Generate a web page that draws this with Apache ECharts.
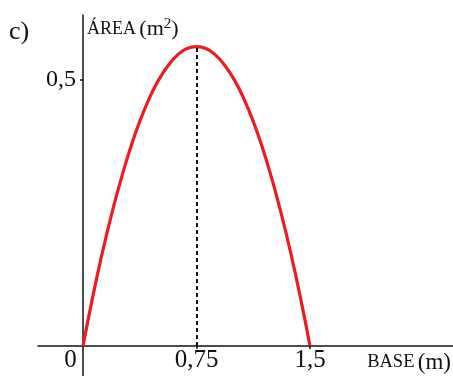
<!DOCTYPE html>
<html>
<head>
<meta charset="utf-8">
<script src="https://cdn.jsdelivr.net/npm/echarts@6/dist/echarts.min.js"></script>
<style>
  html, body { margin: 0; padding: 0; background: #fff; }
  #chart { width: 453px; height: 376px; }
</style>
</head>
<body>
<div id="chart"></div>
<script>
// base (m) and area (m²)
const base = [0, 0.0625, 0.125, 0.1875, 0.25, 0.3125, 0.375, 0.4375, 0.5, 0.5625, 0.625, 0.6875, 0.75,
              0.8125, 0.875, 0.9375, 1, 1.0625, 1.125, 1.1875, 1.25, 1.3125, 1.375, 1.4375, 1.5];
const area = [0, 0.09, 0.172, 0.246, 0.312, 0.371, 0.422, 0.465, 0.5, 0.527, 0.547, 0.559, 0.5625,
              0.559, 0.547, 0.527, 0.5, 0.465, 0.422, 0.371, 0.312, 0.246, 0.172, 0.09, 0];
const xLabels = [0, 0.75, 1.5];
const xTicks = [0.75, 1.5];
const yLabels = [0.5];
const peak = [0.75, 0.5625];

const FONT = "'Liberation Serif', 'DejaVu Serif', serif";
const chart = echarts.init(document.getElementById("chart"));

const comma = v => String(v).replace(".", ",");

chart.setOption({
  backgroundColor: "#fff",
  animation: false,
  title: {
    text: "c)", left: 4, top: 14,
    textStyle: { fontFamily: FONT, fontSize: 26, fontWeight: "normal", color: "#111" },
  },
  grid: { left: 38, right: 0, top: 15, bottom: 0, outerBoundsMode: "none" },
  xAxis: {
    type: "value", min: -0.2975, max: 2.445,
    offset: -30,
    splitLine: { show: false },
    axisLine: { onZero: false, lineStyle: { color: "#111", width: 1.5 } },
    axisTick: { customValues: xTicks, length: 3, lineStyle: { color: "#111", width: 1.5 } },
    axisLabel: {
      customValues: xLabels, margin: 2,
      fontFamily: FONT, fontSize: 25, color: "#111",
      formatter: v => v === 0 ? "{z|0}" : comma(v),
      rich: { z: { fontFamily: FONT, fontSize: 25, color: "#111", padding: [0, 25, 0, 0] } },
    },
    name: "{s|BASE} {b|(m)}",
    nameLocation: "end", nameGap: -2,
    nameTextStyle: {
      align: "right", verticalAlign: "top", padding: [5, 0, 0, 0],
      rich: {
        s: { fontFamily: FONT, fontSize: 18.5, color: "#111" },
        b: { fontFamily: FONT, fontSize: 23, color: "#111" },
      },
    },
  },
  yAxis: {
    type: "value", min: -0.0564, max: 0.622,
    offset: -45,
    splitLine: { show: false },
    axisLine: { onZero: false, lineStyle: { color: "#111", width: 1.5 } },
    axisTick: { customValues: yLabels, length: 3, lineStyle: { color: "#111", width: 1.5 } },
    axisLabel: {
      customValues: yLabels, margin: 7,
      fontFamily: FONT, fontSize: 24, color: "#111",
      formatter: comma,
    },
    name: "{s|ÁREA} {b|(m}{p|2}{b|)}",
    nameLocation: "end", nameGap: -14,
    nameTextStyle: {
      align: "left", verticalAlign: "middle", padding: [0, 0, 0, 4],
      rich: {
        s: { fontFamily: FONT, fontSize: 18, color: "#111" },
        b: { fontFamily: FONT, fontSize: 22, color: "#111" },
        p: { fontFamily: FONT, fontSize: 15, color: "#111", padding: [0, 0, 10, 0] },
      },
    },
  },
  series: [{
    type: "line",
    data: base.map((b, i) => [b, area[i]]),
    smooth: true,
    showSymbol: false,
    lineStyle: { color: "#ed1c24", width: 3.2 },
    markLine: {
      silent: true, symbol: "none", label: { show: false },
      lineStyle: { color: "#111", type: [4, 3], width: 2 },
      data: [[{ coord: [peak[0], 0] }, { coord: peak }]],
    },
  }],
});
</script>
</body>
</html>
